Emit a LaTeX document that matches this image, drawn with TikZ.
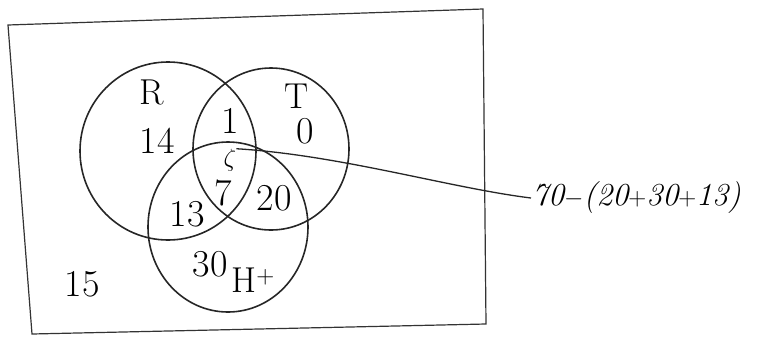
\documentclass[tikz,border=0pt]{standalone}
\usepackage{tikz}
\usetikzlibrary{shapes.geometric, positioning, calc}
\tikzset{
  frame/.style={draw=black!80, line width=1.2pt},
  setring/.style={ellipse, draw=black!85, line width=1.6pt, inner sep=0pt},
  setname/.style={font=\fontsize{36}{36}\selectfont, inner sep=0pt},
  count/.style={font=\fontsize{38}{38}\selectfont, inner sep=0pt},
  leader/.style={draw=black!85, line width=1.3pt},
  calcnote/.style={font=\fontsize{32}{32}\selectfont\itshape, inner sep=1pt},
}
\begin{document}
\begin{tikzpicture}[x=1pt, y=-1pt]
  \useasboundingbox (0,0) rectangle (772,341);

  % outer box (universal set)
  \coordinate (nw) at (8,25);
  \coordinate (ne) at (483,9);
  \coordinate (se) at (486,324);
  \coordinate (sw) at (32,334);
  \draw[frame] (nw) -- (ne) -- (se) -- (sw) -- cycle;

  % the three sets
  \node[setring, minimum width=176pt, minimum height=178pt] (R) at (168,151) {};
  \node[setring, minimum width=156pt, minimum height=162pt] (T) at (271,149) {};
  \node[setring, minimum width=160pt, minimum height=170pt] (H) at (228,227) {};

  \node[setname] (Rname) at (152,92) {R};
  \node[setname] (Tname) at (297,96) {T};
  \node[setname] (Hname) at (253,280) {H$^{+}$};

  % region counts
  \node[count] (nR)   at (157,141) {14};
  \node[count] (nRT)  at (230,121) {1};
  \node[count] (nT)   at (305,131) {0};
  \node[count] (nRTH) at (223,193) {7};
  \node[count] (nTH)  at (274,198) {20};
  \node[count] (nRH)  at (187,214) {13};
  \node[count] (nH)   at (210,264) {30};
  \node[count] (nout) at (82,284) {15};

  % note for the centre region
  \node[font=\fontsize{34}{34}\selectfont, inner sep=0pt] (mark) at (230,160) {$\zeta$};
  \node[calcnote, anchor=west] (note) at (531,198) {70$-$(20$+$30$+$13)};
  \draw[leader] (mark.north east) .. controls (340,155) and (450,188) .. (note.west);
\end{tikzpicture}
\end{document}
